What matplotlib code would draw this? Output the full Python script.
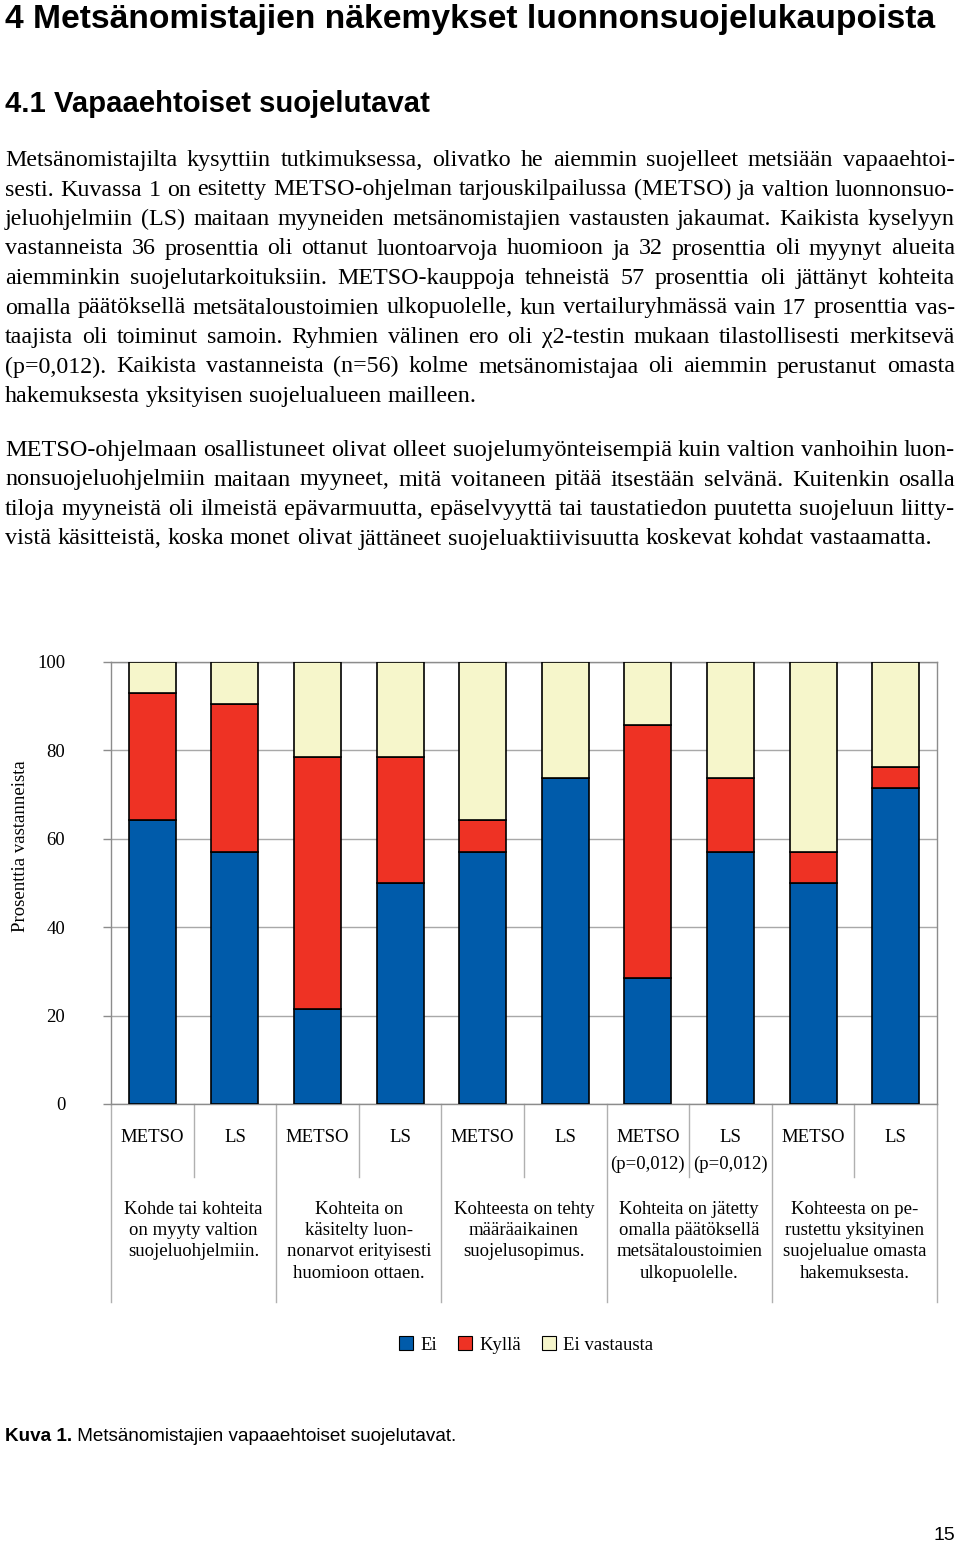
import numpy as np
import matplotlib
matplotlib.use('Agg')
import matplotlib.pyplot as plt
import matplotlib.transforms as mtransforms
from matplotlib.patches import Patch

# ---------------- data ----------------
categories = ['METSO', 'LS', 'METSO', 'LS', 'METSO', 'LS', 'METSO', 'LS', 'METSO', 'LS']
cat_notes = ['', '', '', '', '', '', '(p=0,012)', '(p=0,012)', '', '']
ei = [64.3, 57.1, 21.4, 50.0, 57.1, 73.8, 28.6, 57.1, 50.0, 71.4]
kylla = [28.6, 33.3, 57.1, 28.6, 7.1, 0.0, 57.1, 16.7, 7.1, 4.8]
ei_vastausta = [7.1, 9.6, 21.5, 21.4, 35.8, 26.2, 14.3, 26.2, 42.9, 23.8]
series_names = ['Ei', 'Kyllä', 'Ei vastausta']
group_labels = [
    ['Kohde tai kohteita', 'on myyty valtion', 'suojeluohjelmiin.'],
    ['Kohteita on', 'käsitelty luon-', 'nonarvot erityisesti', 'huomioon ottaen.'],
    ['Kohteesta on tehty', 'määräaikainen', 'suojelusopimus.'],
    ['Kohteita on jätetty', 'omalla päätöksellä', 'metsätaloustoimien', 'ulkopuolelle.'],
    ['Kohteesta on pe-', 'rustettu yksityinen', 'suojelualue omasta', 'hakemuksesta.'],
]
yticks = [0, 20, 40, 60, 80, 100]
ylabel = 'Prosenttia vastanneista'

heading1 = '4 Metsänomistajien näkemykset luonnonsuojelukaupoista'
heading2 = '4.1 Vapaaehtoiset suojelutavat'
para1 = [
    'Metsänomistajilta kysyttiin tutkimuksessa, olivatko he aiemmin suojelleet metsiään vapaaehtoi-',
    'sesti. Kuvassa 1 on esitetty METSO-ohjelman tarjouskilpailussa (METSO) ja valtion luonnonsuo-',
    'jeluohjelmiin (LS) maitaan myyneiden metsänomistajien vastausten jakaumat. Kaikista kyselyyn',
    'vastanneista 36 prosenttia oli ottanut luontoarvoja huomioon ja 32 prosenttia oli myynyt alueita',
    'aiemminkin suojelutarkoituksiin. METSO-kauppoja tehneistä 57 prosenttia oli jättänyt kohteita',
    'omalla päätöksellä metsätaloustoimien ulkopuolelle, kun vertailuryhmässä vain 17 prosenttia vas-',
    'taajista oli toiminut samoin. Ryhmien välinen ero oli χ2-testin mukaan tilastollisesti merkitsevä',
    '(p=0,012). Kaikista vastanneista (n=56) kolme metsänomistajaa oli aiemmin perustanut omasta',
    'hakemuksesta yksityisen suojelualueen mailleen.',
]
para2 = [
    'METSO-ohjelmaan osallistuneet olivat olleet suojelumyönteisempiä kuin valtion vanhoihin luon-',
    'nonsuojeluohjelmiin maitaan myyneet, mitä voitaneen pitää itsestään selvänä. Kuitenkin osalla',
    'tiloja myyneistä oli ilmeistä epävarmuutta, epäselvyyttä tai taustatiedon puutetta suojeluun liitty-',
    'vistä käsitteistä, koska monet olivat jättäneet suojeluaktiivisuutta koskevat kohdat vastaamatta.',
]
caption_bold = 'Kuva 1.'
caption_text = ' Metsänomistajien vapaaehtoiset suojelutavat.'
page_no = '15'

# ---------------- style ----------------
BLUE = '#005BAA'
RED = '#EE3224'
CREAM = '#F6F6CB'
GRID = '#A8A8A8'
SPINE = '#8C8C8C'
SERIF = ['Liberation Serif', 'DejaVu Serif']
SANS = ['Liberation Sans', 'DejaVu Sans']
CHART_FS = 13.5

W, H = 960, 1541
fig = plt.figure(figsize=(W / 100, H / 100), dpi=100)
fig.patch.set_facecolor('white')
renderer = fig.canvas.get_renderer()


def measure(s, size, family, weight='normal'):
    t = fig.text(0, 0, s, fontsize=size, family=family, weight=weight)
    w = t.get_window_extent(renderer).width
    t.remove()
    return w


def put(x, ybase, s, size, family, weight='normal', ha='left'):
    return fig.text(x / W, 1 - ybase / H, s, fontsize=size, family=family,
                    weight=weight, va='baseline', ha=ha, color='black')


def fit_size(s, target, family, weight='normal', maxsize=40):
    base = 20
    return min(maxsize, base * target / measure(s, base, family, weight))


def paragraph(lines, x0, x1, y0, pitch, family, maxsize, last_end=None):
    base = 16
    ratios = [(x1 - x0) / measure(ln, base, family) for ln in lines[:-1]]
    size = min(maxsize, base * min(ratios) * 0.995)
    sp = measure('n n', size, family) - measure('nn', size, family)
    for k, ln in enumerate(lines):
        y = y0 + k * pitch
        words = ln.split(' ')
        ws = [measure(w, size, family) for w in words]
        gap = sp
        if len(words) > 1:
            if k < len(lines) - 1:
                gap = (x1 - x0 - sum(ws)) / (len(words) - 1)
            elif last_end is not None:
                g = (last_end - x0 - sum(ws)) / (len(words) - 1)
                gap = max(sp, g)
        x = x0
        for w, wd in zip(words, ws):
            put(x, y, w, size, family)
            x += wd + gap


# ---------------- page text ----------------
s1 = fit_size(heading1, 927, SANS, 'bold', maxsize=26)
put(5, 28, heading1, s1, SANS, 'bold')
s2 = fit_size(heading2, 423, SANS, 'bold', maxsize=22)
put(5, 112, heading2, s2, SANS, 'bold')

paragraph(para1, 5, 955, 166, 29.5, SERIF, 17.5)
paragraph(para2, 5, 955, 456, 29.5, SERIF, 17.5, last_end=918)

# caption
base = 20
wtot = measure(caption_bold, base, SANS, 'bold') + measure(caption_text, base, SANS)
cs = min(14, base * 452 / wtot)
put(5, 1441, caption_bold, cs, SANS, 'bold')
wb = measure(caption_bold, cs, SANS, 'bold')
put(5 + wb, 1441, caption_text, cs, SANS)
put(955, 1540, page_no, 14, SANS, ha='right')

# ---------------- chart ----------------
ax_l, ax_r, ax_t, ax_b = 111, 937, 662, 1104
ax = fig.add_axes([ax_l / W, 1 - ax_b / H, (ax_r - ax_l) / W, (ax_b - ax_t) / H])
xpos = np.arange(len(categories)) + 0.5
ei_a = np.array(ei)
ky_a = np.array(kylla)
nv_a = np.array(ei_vastausta)
bw = 0.57
ax.bar(xpos, ei_a, width=bw, color=BLUE, edgecolor='black', linewidth=1.2, zorder=3)
ax.bar(xpos, ky_a, width=bw, bottom=ei_a, color=RED, edgecolor='black', linewidth=1.2, zorder=3)
ax.bar(xpos, nv_a, width=bw, bottom=ei_a + ky_a, color=CREAM, edgecolor='black', linewidth=1.2, zorder=3)

ax.set_xlim(0, len(categories))
ax.set_ylim(0, 100)
ax.set_yticks(yticks)
ax.set_yticklabels([str(v) for v in yticks], family=SERIF, fontsize=CHART_FS)
ax.set_xticks([])
ax.tick_params(axis='y', length=6, width=1, color=SPINE, pad=27)
ax.grid(axis='y', color=GRID, linewidth=1, zorder=0)
ax.set_axisbelow(True)
for sp_ in ax.spines.values():
    sp_.set_color(SPINE)
    sp_.set_linewidth(1)

ax.set_ylabel(ylabel, family=SERIF, fontsize=CHART_FS)
ax.yaxis.label.set_va('center')
ah = ax_b - ax_t
aw = ax_r - ax_l
ax.yaxis.set_label_coords((21 - ax_l) / aw, (ax_b - 846) / ah)

trans = mtransforms.blended_transform_factory(ax.transData, ax.transAxes)
long_d = (1302 - ax_b) / ah
short_d = (1177 - ax_b) / ah
for b in range(len(categories) + 1):
    d = long_d if b % 2 == 0 else short_d
    ax.plot([b, b], [0, -d], transform=trans, color='#B0B0B0', lw=1, clip_on=False)

for i, (c, n) in enumerate(zip(categories, cat_notes)):
    ax.text(xpos[i], -(1138 - ax_b) / ah, c, transform=trans, ha='center', va='center',
            family=SERIF, fontsize=CHART_FS)
    if n:
        ax.text(xpos[i], -(1164 - ax_b) / ah, n, transform=trans, ha='center', va='center',
                family=SERIF, fontsize=CHART_FS)

for g, lines in enumerate(group_labels):
    for k, ln in enumerate(lines):
        ax.text(2 * g + 1, -(1209 + 21.5 * k - ax_b) / ah, ln, transform=trans,
                ha='center', va='center', family=SERIF, fontsize=CHART_FS)

handles = [Patch(facecolor=col, edgecolor='black', linewidth=0.8) for col in (BLUE, RED, CREAM)]
fig.legend(handles, series_names, loc='center', bbox_to_anchor=(526 / W, 1 - 1345 / H),
           ncol=3, frameon=False, handlelength=0.75, handleheight=0.75,
           handletextpad=0.4, columnspacing=1.1, prop={'family': SERIF, 'size': CHART_FS})

fig.savefig('out.png', dpi=100, facecolor='white')
